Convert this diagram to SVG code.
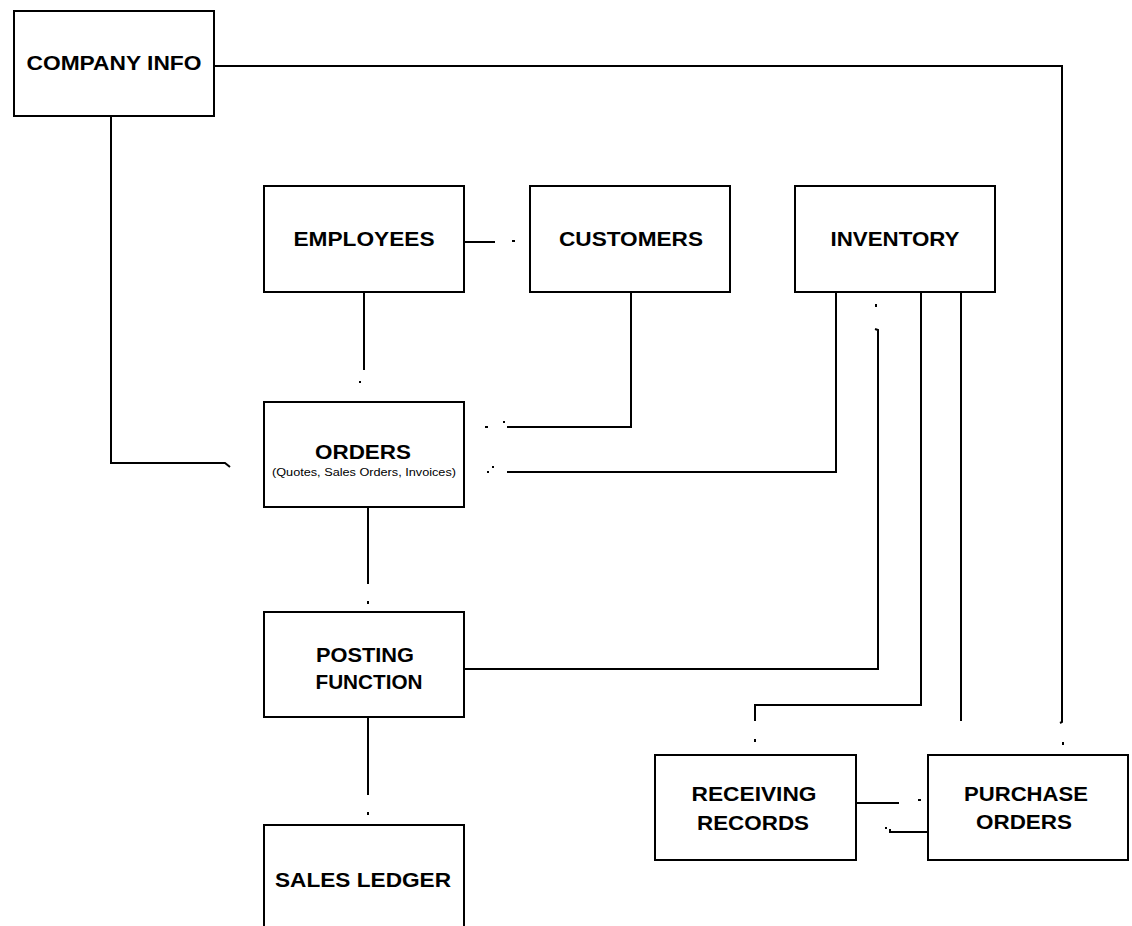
<svg xmlns="http://www.w3.org/2000/svg" width="1132" height="926" viewBox="0 0 1132 926">
<style>
.box{fill:#fff;stroke:#000;stroke-width:2}
.t{font-family:"Liberation Sans",Arial,sans-serif;font-weight:bold;font-size:21px;fill:#000;text-anchor:middle}
.s{font-family:"Liberation Sans",Arial,sans-serif;font-size:10px;fill:#000;text-anchor:middle}
.c{fill:none;stroke:#000;stroke-width:2}
.d{fill:#000}
</style>
<rect width="1132" height="926" fill="#fff"/>
<g id="connectors">
<polyline class="c" points="214,66 1062,66 1062,722 1060,723"/>
<polyline class="c" points="111,116 111,463 225,463 230,467"/>
<polyline class="c" points="464,242 495,242"/>
<polyline class="c" points="364,292 364,370"/>
<polyline class="c" points="631,292 631,427 507,427"/>
<polyline class="c" points="836,292 836,472 507,472"/>
<polyline class="c" points="368,507 368,584"/>
<polyline class="c" points="464,669 878,669 878,330 875,329"/>
<polyline class="c" points="368,717 368,795"/>
<polyline class="c" points="921,292 921,705 755,705 755,721"/>
<polyline class="c" points="961,292 961,721"/>
<polyline class="c" points="856,803 899,803"/>
<polyline class="c" points="928,832 890,832 890,829"/>
<rect class="d" x="512" y="240" width="3" height="2"/>
<rect class="d" x="359" y="381" width="2" height="2"/>
<rect class="d" x="485" y="426" width="3" height="2"/>
<rect class="d" x="503" y="421" width="2" height="2"/>
<rect class="d" x="487" y="471" width="2" height="2"/>
<rect class="d" x="492" y="466" width="2" height="2"/>
<rect class="d" x="367" y="601" width="2" height="3"/>
<rect class="d" x="367" y="812" width="2" height="3"/>
<rect class="d" x="875" y="304" width="2" height="3"/>
<rect class="d" x="754" y="739" width="2" height="3"/>
<rect class="d" x="1062" y="742" width="2" height="3"/>
<rect class="d" x="918" y="799" width="3" height="2"/>
<rect class="d" x="885" y="827" width="2" height="2"/>
</g>
<g id="company-info"><rect class="box" x="14" y="11" width="200" height="105"/><text class="t" x="114" y="70" textLength="175" lengthAdjust="spacingAndGlyphs">COMPANY INFO</text></g>
<g id="employees"><rect class="box" x="264" y="186" width="200" height="106"/><text class="t" x="364" y="246" textLength="141" lengthAdjust="spacingAndGlyphs">EMPLOYEES</text></g>
<g id="customers"><rect class="box" x="530" y="186" width="200" height="106"/><text class="t" x="631" y="246" textLength="144" lengthAdjust="spacingAndGlyphs">CUSTOMERS</text></g>
<g id="inventory"><rect class="box" x="795" y="186" width="200" height="106"/><text class="t" x="895" y="246" textLength="129" lengthAdjust="spacingAndGlyphs">INVENTORY</text></g>
<g id="orders"><rect class="box" x="264" y="402" width="200" height="105"/><text class="t" x="363" y="459" textLength="96" lengthAdjust="spacingAndGlyphs">ORDERS</text><text class="s" x="364" y="476" textLength="184" lengthAdjust="spacingAndGlyphs">(Quotes, Sales Orders, Invoices)</text></g>
<g id="posting-function"><rect class="box" x="264" y="612" width="200" height="105"/><text class="t" x="365" y="662" textLength="98" lengthAdjust="spacingAndGlyphs">POSTING</text><text class="t" x="369" y="689" textLength="107" lengthAdjust="spacingAndGlyphs">FUNCTION</text></g>
<g id="sales-ledger"><rect class="box" x="264" y="825" width="200" height="110"/><text class="t" x="363" y="887" textLength="176" lengthAdjust="spacingAndGlyphs">SALES LEDGER</text></g>
<g id="receiving-records"><rect class="box" x="655" y="755" width="201" height="105"/><text class="t" x="754" y="801" textLength="125" lengthAdjust="spacingAndGlyphs">RECEIVING</text><text class="t" x="753" y="830" textLength="112" lengthAdjust="spacingAndGlyphs">RECORDS</text></g>
<g id="purchase-orders"><rect class="box" x="928" y="755" width="200" height="105"/><text class="t" x="1026" y="801" textLength="124" lengthAdjust="spacingAndGlyphs">PURCHASE</text><text class="t" x="1024" y="829" textLength="96" lengthAdjust="spacingAndGlyphs">ORDERS</text></g>
</svg>
